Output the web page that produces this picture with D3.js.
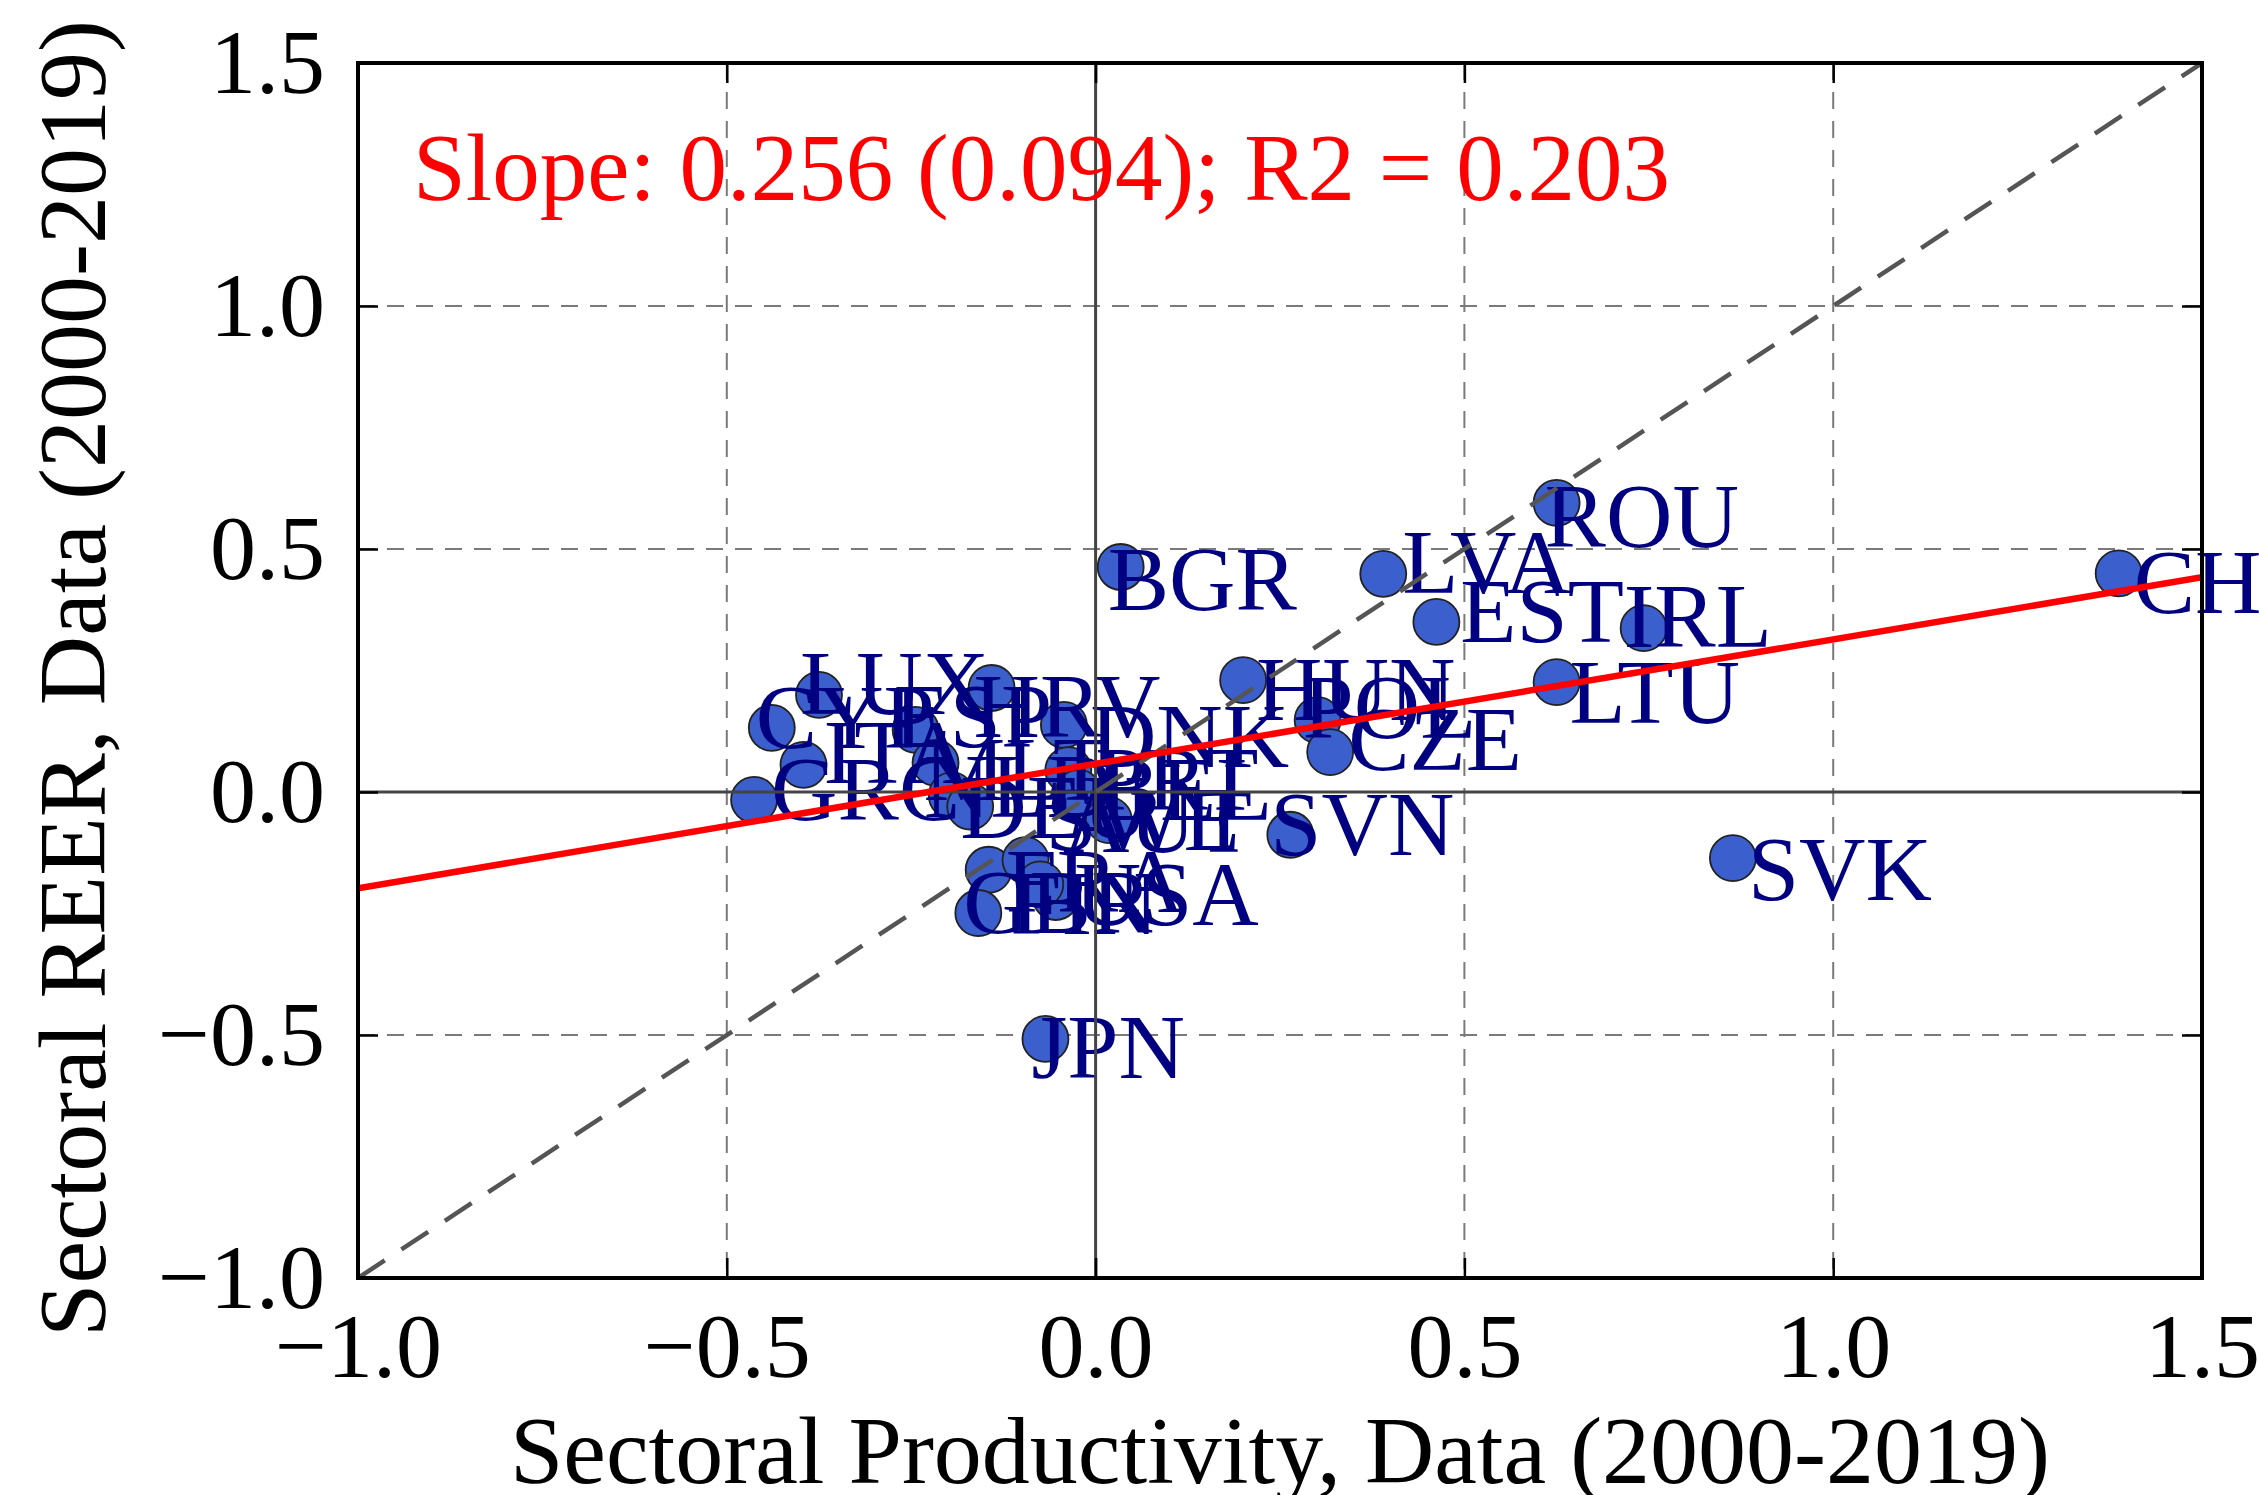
<!DOCTYPE html>
<html>
<head>
<meta charset="utf-8">
<script src="https://cdn.jsdelivr.net/npm/d3@7"></script>
<style>
  body { margin: 0; background: #fff; }
  text { font-family: "Liberation Serif", "Times New Roman", serif; }
</style>
</head>
<body>
<div id="chart"></div>
<script>
// data
var countries = ["CHN", "SVK", "ROU", "LVA", "BGR", "EST", "IRL", "LTU", "HUN", "POL", "CZE", "SVN", "JPN",
                 "LUX", "CYP", "ITA", "GRC", "HRV", "ESP", "MLT", "NLD", "DNK", "PRT", "BEL", "AUT", "DEU",
                 "FRA", "SWE", "GBR", "USA", "FIN"];
var productivity = [1.387, 0.864, 0.625, 0.390, 0.034, 0.462, 0.743, 0.625, 0.200, 0.301, 0.318, 0.264, -0.068,
                    -0.375, -0.439, -0.396, -0.463, -0.141, -0.244, -0.217, -0.195, -0.043, -0.037, -0.023, 0.018, -0.170,
                    -0.145, -0.095, -0.159, -0.054, -0.075];
var reer = [0.450, -0.136, 0.595, 0.449, 0.463, 0.350, 0.337, 0.226, 0.230, 0.148, 0.082, -0.088, -0.508,
            0.200, 0.132, 0.056, -0.016, 0.214, 0.128, 0.060, -0.007, 0.138, 0.045, -0.002, -0.058, -0.030,
            -0.160, -0.140, -0.249, -0.216, -0.190];
// where each label sits relative to its point (px)
var labelDx = [15, 15, -12, 19, -13, 24, -20, 13, 13, -15, 18, -20, -14,
               -19, -16, 20, 17, -18, -22, -12, -28, 26, 27, 20, -46, -10,
               17, 20, -15, 19, -30];
var labelDy = [40, 42, 44, 19, 43, 20, 19, 41, 40, 18, 18, 20, 39,
               19, 20, 18, 20, 49, 17, 37, 22, 42, 40, 27, 32, 31,
               42, -10, 20, 28, 50];

var ticks = [-1.0, -0.5, 0.0, 0.5, 1.0, 1.5];
var gridTicks = [-0.5, 0.5, 1.0];
var fitSlope = 0.256, fitIntercept = 0.058;
var annotation = "Slope: 0.256 (0.094); R2 = 0.203";
var xTitle = "Sectoral Productivity, Data (2000-2019)";
var yTitle = "Sectoral REER, Data (2000-2019)";

var W = 2259, H = 1495;
var margin = { top: 63, right: 57, bottom: 217, left: 358 };
var width = W - margin.left - margin.right,
    height = H - margin.top - margin.bottom;

var svg = d3.select('#chart').append('svg')
    .attr('width', W)
    .attr('height', H);

svg.append('rect').attr('width', W).attr('height', H).attr('fill', '#fff');

var g = svg.append('g')
    .attr('transform', 'translate(' + margin.left + ',' + margin.top + ')');

var x = d3.scaleLinear().domain([-1, 1.5]).range([0, width]);
var y = d3.scaleLinear().domain([-1, 1.5]).range([height, 0]);

svg.append('clipPath').attr('id', 'plotclip')
  .append('rect').attr('x', 0).attr('y', 0).attr('width', width).attr('height', height);

// grid
g.selectAll('.gx').data(gridTicks).enter().append('line')
    .attr('x1', function(d) { return x(d); }).attr('x2', function(d) { return x(d); })
    .attr('y1', 0).attr('y2', height)
    .attr('stroke', '#7a7a7a').attr('stroke-width', 2).attr('stroke-dasharray', '17,12');
g.selectAll('.gy').data(gridTicks).enter().append('line')
    .attr('y1', function(d) { return y(d); }).attr('y2', function(d) { return y(d); })
    .attr('x1', 0).attr('x2', width)
    .attr('stroke', '#7a7a7a').attr('stroke-width', 2).attr('stroke-dasharray', '17,12');

var pts = d3.range(countries.length);

// points
g.selectAll('circle').data(pts).enter().append('circle')
    .attr('cx', function(i) { return x(productivity[i]); })
    .attr('cy', function(i) { return y(reer[i]); })
    .attr('r', 23)
    .attr('fill', '#3b5fcd')
    .attr('stroke', '#222')
    .attr('stroke-width', 1.8);

// labels
g.selectAll('.lab').data(pts).enter().append('text')
    .attr('class', 'lab')
    .attr('x', function(i) { return x(productivity[i]) + labelDx[i]; })
    .attr('y', function(i) { return y(reer[i]) + labelDy[i]; })
    .attr('fill', '#000080')
    .style('font-size', '92px')
    .text(function(i) { return countries[i]; });

var lines = g.append('g').attr('clip-path', 'url(#plotclip)');

// zero lines
lines.append('line')
    .attr('x1', 0).attr('x2', width).attr('y1', y(0)).attr('y2', y(0))
    .attr('stroke', '#444').attr('stroke-width', 3);
lines.append('line')
    .attr('x1', x(0)).attr('x2', x(0)).attr('y1', 0).attr('y2', height)
    .attr('stroke', '#444').attr('stroke-width', 3);

// 45 degree line
lines.append('line')
    .attr('x1', x(-1)).attr('y1', y(-1)).attr('x2', x(1.5)).attr('y2', y(1.5))
    .attr('stroke', '#555').attr('stroke-width', 4.5).attr('stroke-dasharray', '32,20');

// fitted line
lines.append('line')
    .attr('x1', x(-1)).attr('y1', y(fitIntercept - fitSlope))
    .attr('x2', x(1.5)).attr('y2', y(fitIntercept + fitSlope * 1.5))
    .attr('stroke', '#ff0000').attr('stroke-width', 6.5);

// axes
var fmt = d3.format('.1f');
var xAxis = g.append('g').attr('transform', 'translate(0,' + height + ')')
    .call(d3.axisBottom(x).tickValues(ticks).tickFormat(fmt).tickSizeInner(-20).tickSizeOuter(0).tickPadding(34));
var yAxis = g.append('g')
    .call(d3.axisLeft(y).tickValues(ticks).tickFormat(fmt).tickSizeInner(-20).tickSizeOuter(0).tickPadding(33));
var xTop = g.append('g')
    .call(d3.axisTop(x).tickValues(ticks).tickFormat('').tickSizeInner(-20).tickSizeOuter(0));
var yRight = g.append('g').attr('transform', 'translate(' + width + ',0)')
    .call(d3.axisRight(y).tickValues(ticks).tickFormat('').tickSizeInner(-20).tickSizeOuter(0));

[xAxis, yAxis, xTop, yRight].forEach(function(a) {
  a.select('.domain').remove();
  a.selectAll('line').attr('stroke', '#000').attr('stroke-width', 2.5);
  a.selectAll('text').attr('fill', '#000').style('font-size', '92px').style('font-family', '"Liberation Serif", serif');
});

// frame
g.append('rect')
    .attr('x', 0).attr('y', 0).attr('width', width).attr('height', height)
    .attr('fill', 'none').attr('stroke', '#000').attr('stroke-width', 4);

// annotation
g.append('text')
    .attr('x', 55).attr('y', 137)
    .attr('fill', '#ff0000')
    .style('font-size', '95px')
    .text(annotation);

// axis titles
svg.append('text')
    .attr('x', margin.left + width / 2).attr('y', 1483)
    .attr('text-anchor', 'middle')
    .style('font-size', '96px')
    .text(xTitle);

svg.append('text')
    .attr('transform', 'translate(105,' + (margin.top + height / 2 + 8) + ') rotate(-90)')
    .attr('text-anchor', 'middle')
    .style('font-size', '96px')
    .text(yTitle);
</script>
</body>
</html>
